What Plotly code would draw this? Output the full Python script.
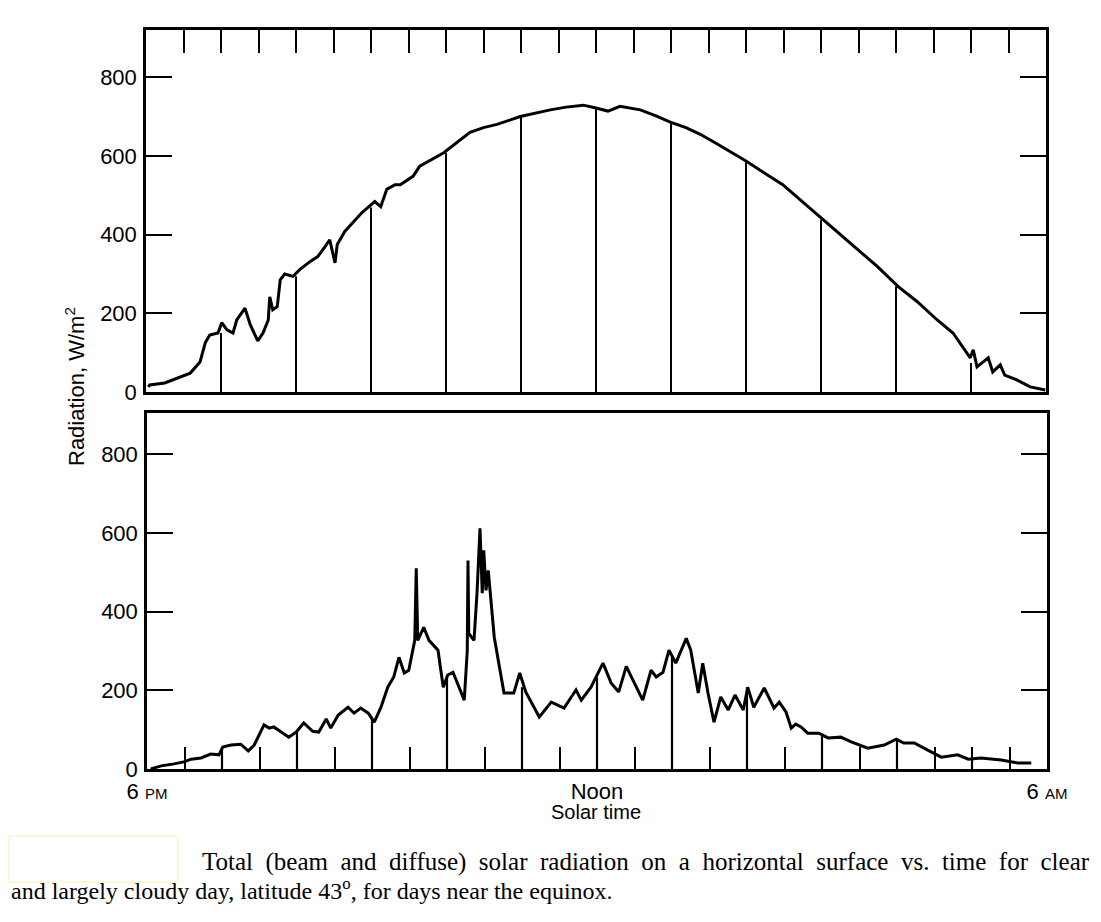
import plotly.graph_objects as go

W, H = 1101, 922

# ---------------- data (hours after left edge "6 PM" = 0 ... "6 AM" = 12) -------------
clear_hours = [0.03, 0.05, 0.25, 0.39, 0.59, 0.72, 0.79, 0.85, 0.96, 1.01, 1.08, 1.16, 1.21,
               1.32, 1.39, 1.49, 1.56, 1.63, 1.65, 1.69, 1.75, 1.79, 1.85, 1.96, 2.05, 2.19,
               2.29, 2.39, 2.45, 2.52, 2.55, 2.65, 2.79, 2.88, 2.96, 3.05, 3.13, 3.21, 3.32,
               3.39, 3.56, 3.65, 3.97, 4.15, 4.32, 4.5, 4.68, 4.99, 5.2, 5.39, 5.6, 5.83,
               5.97, 6.16, 6.32, 6.59, 6.8, 6.99, 7.2, 7.39, 7.6, 7.8, 8.0, 8.25, 8.49,
               8.72, 9.03, 9.39, 9.75, 10.03, 10.28, 10.55, 10.76, 10.99, 11.03, 11.08,
               11.23, 11.29, 11.39, 11.45, 11.61, 11.79, 11.99]
clear_values = [13, 18, 23, 33, 48, 76, 125, 145, 150, 176, 158, 150, 183,
                213, 171, 130, 150, 183, 242, 209, 217, 285, 300, 294, 311, 332,
                344, 370, 387, 328, 375, 408, 438, 456, 469, 484, 471, 515, 527,
                527, 548, 574, 608, 635, 660, 672, 680, 700, 709, 717, 724, 729,
                723, 714, 726, 717, 702, 686, 672, 655, 632, 610, 587, 556, 527,
                489, 438, 380, 319, 268, 230, 183, 150, 87, 107, 64,
                87, 51, 69, 43, 31, 13, 5]

cloudy_hours = [0.05, 0.19, 0.36, 0.49, 0.59, 0.72, 0.85, 0.96, 1.01, 1.12, 1.25, 1.35, 1.43,
                1.56, 1.63, 1.69, 1.79, 1.89, 1.99, 2.09, 2.21, 2.29, 2.39, 2.45, 2.55, 2.68,
                2.76, 2.85, 2.95, 3.03, 3.12, 3.21, 3.29, 3.36, 3.43, 3.49, 3.57, 3.59, 3.61,
                3.69, 3.76, 3.88, 3.95, 4.01, 4.08, 4.23, 4.27, 4.28, 4.29, 4.36, 4.40, 4.44,
                4.47, 4.49, 4.52, 4.55, 4.63, 4.76, 4.89, 4.97, 5.05, 5.23, 5.39, 5.56, 5.72,
                5.79, 5.92, 6.08, 6.19, 6.29, 6.39, 6.48, 6.61, 6.72, 6.79, 6.88, 6.96, 7.05,
                7.19, 7.25, 7.35, 7.41, 7.48, 7.56, 7.65, 7.75, 7.84, 7.95, 8.01, 8.09, 8.23,
                8.36, 8.43, 8.52, 8.59, 8.65, 8.72, 8.81, 8.96, 9.08, 9.25, 9.39, 9.61, 9.83,
                9.99, 10.09, 10.23, 10.41, 10.59, 10.81, 10.95, 11.12, 11.39, 11.61, 11.79]
cloudy_values = [0, 8, 13, 18, 25, 28, 38, 36, 56, 61, 63, 46, 61,
                 112, 104, 107, 94, 81, 94, 117, 96, 94, 127, 104, 137, 157,
                 142, 155, 142, 119, 157, 208, 234, 284, 244, 251, 327, 510, 327,
                 360, 327, 302, 208, 239, 246, 175, 300, 530, 345, 327, 447, 612,
                 447, 556, 454, 505, 335, 193, 193, 244, 196, 132, 170, 155, 201,
                 175, 208, 269, 218, 196, 261, 226, 175, 251, 234, 246, 302, 269,
                 332, 302, 193, 269, 193, 119, 183, 150, 188, 150, 208, 157, 206,
                 155, 170, 145, 104, 114, 107, 91, 91, 79, 81, 69, 53, 61,
                 76, 66, 66, 48, 30, 36, 25, 28, 23, 15, 15]

# hourly marker lines (height read where each line meets the curve)
marker_hours = [1, 2, 3, 4, 5, 6, 7, 8, 9, 10, 11]
clear_marker_values = [150, 294, 469, 608, 700, 723, 686, 587, 438, 268, 74]
cloudy_marker_values = [56, 94, 130, 239, 208, 233, 290, 208, 88, 72, 27]

y_ticks = [0, 200, 400, 600, 800]
half_hour_ticks = [i * 0.5 for i in range(25)]
x_tick_labels = {0: "6 <span style='font-size:15px'>PM</span>",
                 6: "Noon",
                 12: "6 <span style='font-size:15px'>AM</span>"}

caption_line1 = "Total (beam and diffuse) solar radiation on a horizontal surface vs. time for clear"
caption_line2 = "and largely cloudy day, latitude 43<sup>o</sup>, for days near the equinox."

# ------------------------------------------------------------------------------------
# the page body adds an 8 px margin; positions below are target-picture pixels
OFF = 8

def px_x(p):
    return (p - OFF) / W

def px_y(p):
    return 1 - (p - OFF) / H

def drop_lines(hours, vals):
    xs, ys = [], []
    for h, v in zip(hours, vals):
        xs += [h, h, None]
        ys += [0, v, None]
    return xs, ys

fig = go.Figure()

mx, my = drop_lines(marker_hours, clear_marker_values)
fig.add_trace(go.Scatter(x=mx, y=my, mode="lines", line=dict(color="black", width=2),
                         xaxis="x", yaxis="y", hoverinfo="skip", showlegend=False))
fig.add_trace(go.Scatter(x=clear_hours, y=clear_values, mode="lines",
                         line=dict(color="black", width=3), xaxis="x", yaxis="y",
                         showlegend=False))

mx2, my2 = drop_lines(marker_hours, cloudy_marker_values)
fig.add_trace(go.Scatter(x=mx2, y=my2, mode="lines", line=dict(color="black", width=2.2),
                         xaxis="x2", yaxis="y2", hoverinfo="skip", showlegend=False))
fig.add_trace(go.Scatter(x=cloudy_hours, y=cloudy_values, mode="lines",
                         line=dict(color="black", width=3), xaxis="x2", yaxis="y2",
                         showlegend=False))

sans = "Liberation Sans, Arial, sans-serif"
tickfont = dict(family=sans, size=22, color="black")
common_axis = dict(showgrid=False, zeroline=False, showline=True, linecolor="black",
                   linewidth=2.5, tickcolor="black", tickwidth=2, automargin=False)

fig.update_layout(
    width=W, height=H,
    margin=dict(l=0, r=0, t=0, b=0, autoexpand=False),
    paper_bgcolor="white", plot_bgcolor="white",
    xaxis=dict(domain=[px_x(146), px_x(1046)], range=[0, 12], anchor="y", side="top",
               ticks="inside", ticklen=23, tickvals=half_hour_ticks[1:-1],
               showticklabels=False, mirror=True, **common_axis),
    yaxis=dict(domain=[px_y(392), px_y(30)], range=[0, 920], anchor="x",
               ticks="inside", ticklen=26, tickvals=y_ticks, tickfont=tickfont,
               mirror="ticks", ticklabelstandoff=2, **common_axis),
    xaxis2=dict(domain=[px_x(147), px_x(1047)], range=[0, 12], anchor="y2",
                ticks="inside", ticklen=22, tickvals=half_hour_ticks,
                ticktext=[x_tick_labels.get(int(t), "") if t == int(t) else ""
                          for t in half_hour_ticks],
                tickfont=tickfont, mirror=True, ticklabelstandoff=1, **common_axis),
    yaxis2=dict(domain=[px_y(769), px_y(413)], range=[0, 905], anchor="x2",
                ticks="inside", ticklen=26, tickvals=y_ticks, tickfont=tickfont,
                mirror="ticks", ticklabelstandoff=2, **common_axis),
)

fig.add_annotation(x=px_x(75), y=px_y(387), xref="paper", yref="paper",
                   xanchor="center", yanchor="middle",
                   text="Radiation, W/m<sup>2</sup>", textangle=-90, showarrow=False,
                   font=dict(family=sans, size=22, color="black"))
fig.add_annotation(x=px_x(596), y=px_y(812), xref="paper", yref="paper",
                   xanchor="center", yanchor="middle",
                   text="Solar time", showarrow=False,
                   font=dict(family=sans, size=20, color="black"))

serif = "Liberation Serif, Times New Roman, serif"
# first line of the caption is justified in the source: widen its word gaps
fig.add_annotation(x=px_x(200), y=px_y(862), xref="paper", yref="paper",
                   xanchor="left", yanchor="middle",
                   text=caption_line1.replace(" ", "\u2002"),
                   showarrow=False, font=dict(family=serif, size=25, color="black"))
fig.add_annotation(x=px_x(9), y=px_y(889), xref="paper", yref="paper",
                   xanchor="left", yanchor="middle",
                   text=caption_line2, showarrow=False,
                   font=dict(family=serif, size=24, color="black"))

# faint highlight box of the scan
fig.add_shape(type="rect", xref="paper", yref="paper", x0=px_x(9), x1=px_x(178),
              y0=px_y(882), y1=px_y(836), line=dict(color="#fbf3a8", width=1),
              fillcolor="rgba(0,0,0,0)")

fig.write_html("out.html")
